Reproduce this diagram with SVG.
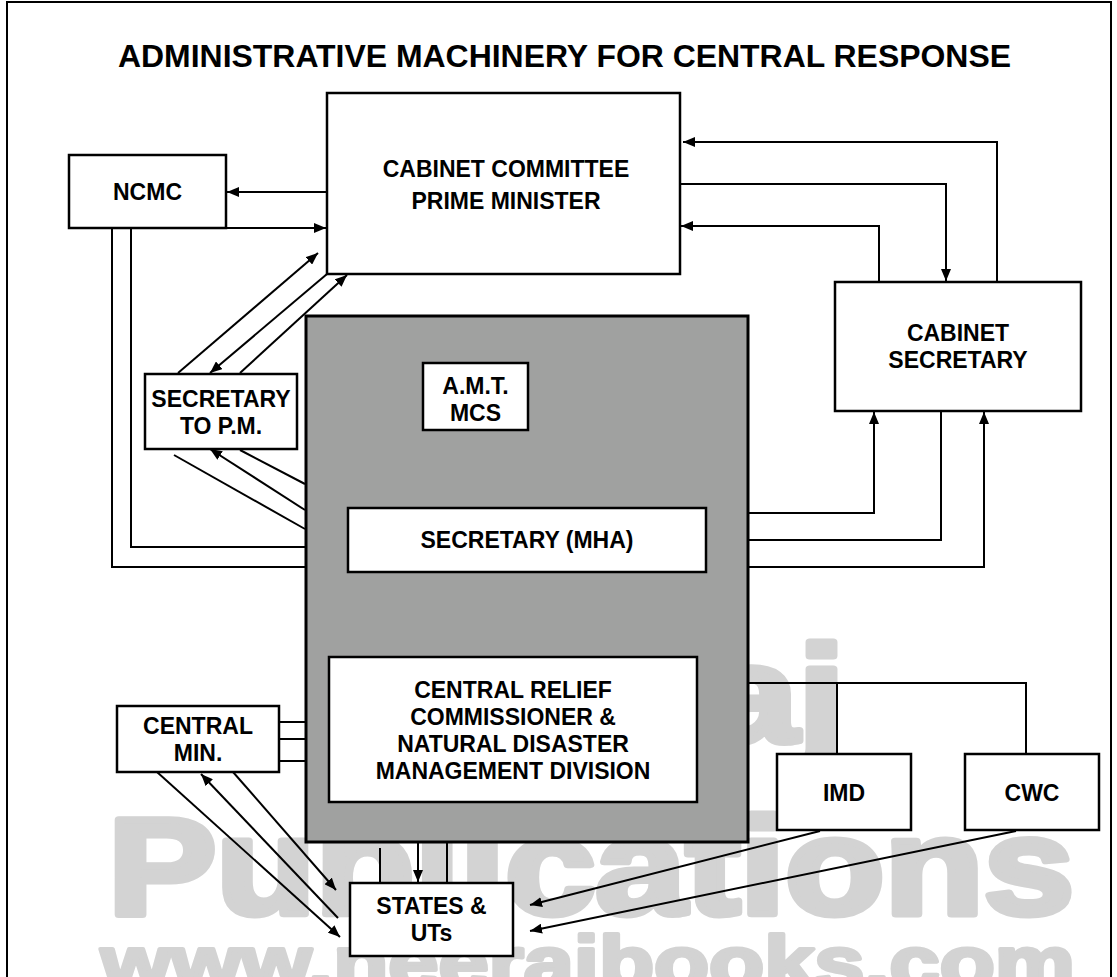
<svg xmlns="http://www.w3.org/2000/svg" width="1117" height="977" viewBox="0 0 1117 977">
<style>
.box{fill:#fff;stroke:#000;stroke-width:2.5}
.gray{fill:#a0a1a0;stroke:#000;stroke-width:3}
.lbl{font-family:"Liberation Sans",Arial,sans-serif;font-weight:bold;font-size:23px;fill:#000;text-anchor:middle}
.ttl{font-family:"Liberation Sans",Arial,sans-serif;font-weight:bold;font-size:32px;fill:#000;text-anchor:middle}
.wm{font-family:"Liberation Sans",Arial,sans-serif;font-weight:bold;fill:#d3d3d3;stroke:#d3d3d3;stroke-linejoin:round}
.ln{fill:none;stroke:#000;stroke-width:2}
.ar{fill:none;stroke:#000;stroke-width:2;marker-end:url(#ah)}
</style>
<defs>
<marker id="ah" viewBox="0 0 12 10" refX="12" refY="5" markerWidth="12" markerHeight="10" markerUnits="userSpaceOnUse" orient="auto">
<path d="M0,0 L12,5 L0,10 z" fill="#000"/>
</marker>
</defs>
<rect x="0" y="0" width="1117" height="977" fill="#fff"/>
<rect x="7" y="2" width="1104" height="990" fill="none" stroke="#000" stroke-width="2"/>
<g id="watermark">
<text class="wm" x="328" y="741.5" font-size="137" stroke-width="7" textLength="517" lengthAdjust="spacingAndGlyphs">Neeraj</text>
<text class="wm" x="108" y="913.5" font-size="137" stroke-width="7" textLength="966" lengthAdjust="spacingAndGlyphs">Publications</text>
<text class="wm" x="101" y="987.5" font-size="74" stroke-width="4" textLength="974" lengthAdjust="spacingAndGlyphs">www.neerajbooks.com</text>
</g>
<text class="ttl" x="564.5" y="67" textLength="893" lengthAdjust="spacingAndGlyphs">ADMINISTRATIVE MACHINERY FOR CENTRAL RESPONSE</text>
<g id="mha-block"><rect class="gray" x="306" y="316" width="442" height="526"/></g>
<g id="pm"><rect class="box" x="327" y="93" width="353" height="181"/>
<text class="lbl" x="506" y="177">CABINET COMMITTEE</text><text class="lbl" x="506" y="209">PRIME MINISTER</text></g>
<g id="ncmc"><rect class="box" x="69" y="155" width="157" height="73"/><text class="lbl" x="147.5" y="200">NCMC</text></g>
<g id="cabsec"><rect class="box" x="835" y="282" width="246" height="129"/>
<text class="lbl" x="958" y="341">CABINET</text><text class="lbl" x="958" y="368">SECRETARY</text></g>
<g id="secpm"><rect class="box" x="145" y="374" width="152" height="75"/>
<text class="lbl" x="221" y="407">SECRETARY</text><text class="lbl" x="221" y="434">TO P.M.</text></g>
<g id="amt"><rect class="box" x="423" y="363" width="105" height="67"/>
<text class="lbl" x="475.5" y="394">A.M.T.</text><text class="lbl" x="475.5" y="421">MCS</text></g>
<g id="secmha"><rect class="box" x="348" y="508" width="358" height="64"/><text class="lbl" x="527" y="548">SECRETARY (MHA)</text></g>
<g id="crc"><rect class="box" x="329" y="657" width="368" height="145"/>
<text class="lbl" x="513" y="698">CENTRAL RELIEF</text><text class="lbl" x="513" y="725">COMMISSIONER &amp;</text>
<text class="lbl" x="513" y="752">NATURAL DISASTER</text><text class="lbl" x="513" y="779">MANAGEMENT DIVISION</text></g>
<g id="centralmin"><rect class="box" x="117" y="706" width="162" height="66"/>
<text class="lbl" x="198" y="734">CENTRAL</text><text class="lbl" x="198" y="761">MIN.</text></g>
<g id="imd"><rect class="box" x="777" y="754" width="134" height="76"/><text class="lbl" x="844" y="801">IMD</text></g>
<g id="cwc"><rect class="box" x="965" y="754" width="134" height="76"/><text class="lbl" x="1032" y="801">CWC</text></g>
<g id="states"><rect class="box" x="350" y="883" width="163" height="73"/>
<text class="lbl" x="431.5" y="914">STATES &amp;</text><text class="lbl" x="431.5" y="941">UTs</text></g>
<g id="connectors">
<path class="ar" d="M327,192 H227"/>
<path class="ar" d="M226,228 H326"/>
<path class="ar" d="M997,282 V142 H683"/>
<path class="ar" d="M680,184 H946 V281"/>
<path class="ar" d="M879,282 V226 H681"/>
<path class="ar" d="M748,513 H874 V412"/>
<path class="ln" d="M748,540 H941 V411"/>
<path class="ar" d="M748,567 H984 V412"/>
<path class="ln" d="M112,228 V567 H306"/>
<path class="ln" d="M131,228 V547 H306"/>
<path class="ar" d="M178,373 L318,253"/>
<path class="ar" d="M327,274 L210,373"/>
<path class="ar" d="M240,373 L347,275"/>
<path class="ln" d="M174,455 L305,529"/>
<path class="ar" d="M305,510 L210,449"/>
<path class="ln" d="M240,450 L305,484"/>
<path class="ln" d="M279,722 H306 M279,739 H306 M279,761 H306" stroke-width="2.5"/>
<path class="ar" d="M157,772 L340,937"/>
<path class="ar" d="M338,918 L201,774"/>
<path class="ar" d="M233,772 L336,890"/>
<path class="ln" d="M380,848 V883 M447,842 V883"/>
<path class="ar" d="M418,842 V882"/>
<path class="ar" d="M820,831 L530,905"/>
<path class="ar" d="M1016,831 L530,931"/>
<path class="ln" d="M748,683 H1026 V754 M837,683 V754" stroke-width="2.5"/>
</g>
</svg>
